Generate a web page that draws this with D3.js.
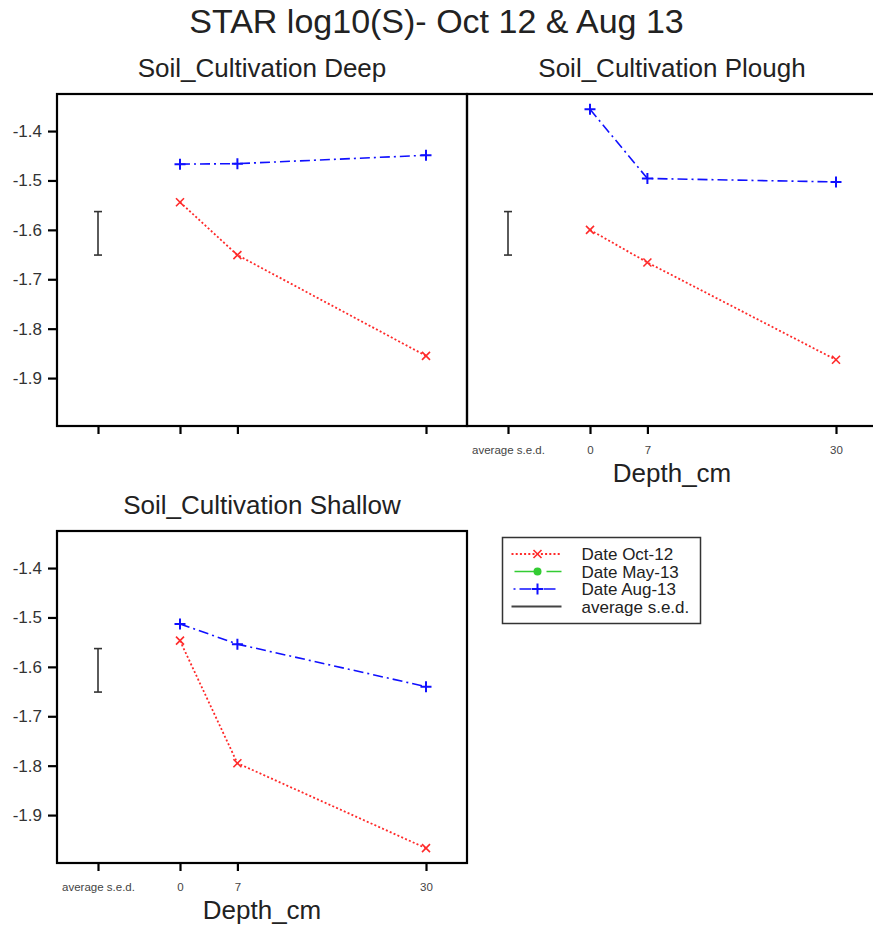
<!DOCTYPE html>
<html>
<head>
<meta charset="utf-8">
<script src="https://cdn.jsdelivr.net/npm/d3@7"></script>
<style>
  body { margin: 0; background: #fff; }
  text { font-family: "Liberation Sans", Arial, sans-serif; }
</style>
</head>
<body>
<div id="chart"></div>
<script>
const width = 873;
const height = 926;

// values
const depths = [0, 7, 30];
const panelNames = ["Deep", "Plough", "Shallow"];
const deepOct12 = [-1.544, -1.651, -1.855];
const deepAug13 = [-1.467, -1.466, -1.449];
const ploughOct12 = [-1.600, -1.666, -1.863];
const ploughAug13 = [-1.356, -1.496, -1.503];
const shallowOct12 = [-1.547, -1.795, -1.967];
const shallowAug13 = [-1.513, -1.554, -1.640];
const sedMid = -1.607;
const sedValue = 0.088;
const sedX = -10;

const yTicks = [-1.9, -1.8, -1.7, -1.6, -1.5, -1.4];
const xTickValues = [-10, 0, 7, 30];
const xTickLabels = ["average s.e.d.", "0", "7", "30"];
const legendLabels = ["Date Oct-12", "Date May-13", "Date Aug-13", "average s.e.d."];

const panelW = 410;
const panelH = 332;

const red = "#ff2a2a";
const blue = "#1010ff";
const green = "#33cc33";

const x = d3.scaleLinear().domain([-15, 35]).range([0, panelW]);
const y = d3.scaleLinear().domain([-1.997, -1.325]).range([panelH, 0]);

const svg = d3.select("#chart").append("svg")
  .attr("width", width)
  .attr("height", height);

svg.append("text")
  .attr("x", width / 2)
  .attr("y", 33)
  .attr("text-anchor", "middle")
  .attr("font-size", 34)
  .attr("fill", "#222")
  .text("STAR log10(S)- Oct 12 & Aug 13");

const line = d3.line()
  .x((d) => x(d[0]))
  .y((d) => y(d[1]));

// one panel: box, axes, sed bar and the two series
function drawPanel(opts) {
  const g = svg.append("g").attr("transform", `translate(${opts.left}, ${opts.top})`);

  g.append("text")
    .attr("x", panelW / 2)
    .attr("y", -17)
    .attr("text-anchor", "middle")
    .attr("font-size", 26)
    .attr("fill", "#222")
    .text("Soil_Cultivation " + opts.name);

  // y axis
  const yAxis = g.append("g")
    .call(d3.axisLeft(y).tickValues(opts.showY ? yTicks : []).tickSize(9).tickPadding(6)
      .tickFormat(d3.format(".1f")));
  yAxis.select(".domain").remove();
  yAxis.selectAll(".tick line").attr("stroke", "#000").attr("stroke-width", 2.2);
  yAxis.selectAll(".tick text")
    .attr("font-size", 17)
    .attr("font-family", "Liberation Sans, Arial, sans-serif")
    .attr("fill", "#333")
    .text((d) => d.toFixed(1));

  // x axis
  const xAxis = g.append("g")
    .attr("transform", `translate(0, ${panelH})`)
    .call(d3.axisBottom(x).tickValues(xTickValues).tickSize(8).tickPadding(12)
      .tickFormat((d, i) => opts.showXLabels ? xTickLabels[i] : ""));
  xAxis.select(".domain").remove();
  xAxis.selectAll(".tick line").attr("stroke", "#000").attr("stroke-width", 2.2);
  xAxis.selectAll(".tick text")
    .attr("font-size", 11.5)
    .attr("font-family", "Liberation Sans, Arial, sans-serif")
    .attr("fill", "#444");

  if (opts.showXLabels) {
    g.append("text")
      .attr("x", panelW / 2)
      .attr("y", panelH + 56)
      .attr("text-anchor", "middle")
      .attr("font-size", 26)
      .attr("fill", "#222")
      .text("Depth_cm");
  }

  // frame
  g.append("rect")
    .attr("width", panelW)
    .attr("height", panelH)
    .attr("fill", "none")
    .attr("stroke", "#000")
    .attr("stroke-width", 2.2);

  // average s.e.d. bar
  const sed = g.append("g").attr("stroke", "#333").attr("stroke-width", 1.6);
  const y0 = y(sedMid - sedValue / 2);
  const y1 = y(sedMid + sedValue / 2);
  sed.append("line").attr("x1", x(sedX)).attr("x2", x(sedX)).attr("y1", y0).attr("y2", y1);
  sed.append("line").attr("x1", x(sedX) - 4).attr("x2", x(sedX) + 4).attr("y1", y0).attr("y2", y0);
  sed.append("line").attr("x1", x(sedX) - 4).attr("x2", x(sedX) + 4).attr("y1", y1).attr("y2", y1);

  const oct = depths.map((d, i) => [d, opts.oct[i]]);
  const aug = depths.map((d, i) => [d, opts.aug[i]]);

  g.append("path")
    .attr("d", line(oct))
    .attr("fill", "none")
    .attr("stroke", red)
    .attr("stroke-width", 1.8)
    .attr("stroke-dasharray", "2,2.2");

  g.append("path")
    .attr("d", line(aug))
    .attr("fill", "none")
    .attr("stroke", blue)
    .attr("stroke-width", 1.6)
    .attr("stroke-dasharray", "10,4,2,4");

  g.selectAll(".cross")
    .data(oct)
    .join("path")
    .attr("class", "cross")
    .attr("d", (d) => {
      const cx = x(d[0]), cy = y(d[1]), s = 4;
      return `M${cx - s},${cy - s}L${cx + s},${cy + s}M${cx - s},${cy + s}L${cx + s},${cy - s}`;
    })
    .attr("stroke", red)
    .attr("stroke-width", 1.6);

  g.selectAll(".plus")
    .data(aug)
    .join("path")
    .attr("class", "plus")
    .attr("d", (d) => {
      const cx = x(d[0]), cy = y(d[1]), s = 5.5;
      return `M${cx - s},${cy}L${cx + s},${cy}M${cx},${cy - s}L${cx},${cy + s}`;
    })
    .attr("stroke", blue)
    .attr("stroke-width", 2);
}

drawPanel({ name: panelNames[0], left: 57, top: 94, oct: deepOct12, aug: deepAug13, showY: true, showXLabels: false });
drawPanel({ name: panelNames[1], left: 467, top: 94, oct: ploughOct12, aug: ploughAug13, showY: false, showXLabels: true });
drawPanel({ name: panelNames[2], left: 57, top: 531, oct: shallowOct12, aug: shallowAug13, showY: true, showXLabels: true });

// legend
const legend = svg.append("g").attr("transform", "translate(502.5, 537.5)");
legend.append("rect")
  .attr("width", 198)
  .attr("height", 86)
  .attr("fill", "#fff")
  .attr("stroke", "#333")
  .attr("stroke-width", 1.5);

const rowY = [16.5, 34, 51.5, 69];
const lx0 = 9, lx1 = 59, lmid = 35;

legendLabels.forEach((label, i) => {
  legend.append("text")
    .attr("x", 79)
    .attr("y", rowY[i])
    .attr("dy", "0.36em")
    .attr("font-size", 17)
    .attr("fill", "#222")
    .text(label);
});

legend.append("line").attr("x1", lx0).attr("x2", lx1).attr("y1", rowY[0]).attr("y2", rowY[0])
  .attr("stroke", red).attr("stroke-width", 1.8).attr("stroke-dasharray", "2,2.2");
legend.append("path")
  .attr("d", `M${lmid - 4},${rowY[0] - 4}L${lmid + 4},${rowY[0] + 4}M${lmid - 4},${rowY[0] + 4}L${lmid + 4},${rowY[0] - 4}`)
  .attr("stroke", red).attr("stroke-width", 1.6);

legend.append("line").attr("x1", lx0 + 3).attr("x2", lx1).attr("y1", rowY[1]).attr("y2", rowY[1])
  .attr("stroke", green).attr("stroke-width", 1.6).attr("stroke-dasharray", "24,8");
legend.append("circle").attr("cx", lmid).attr("cy", rowY[1]).attr("r", 4).attr("fill", green);

legend.append("line").attr("x1", lx0 + 2).attr("x2", lx1).attr("y1", rowY[2]).attr("y2", rowY[2])
  .attr("stroke", blue).attr("stroke-width", 1.6).attr("stroke-dasharray", "2,4,12,6");
legend.append("path")
  .attr("d", `M${lmid - 5.5},${rowY[2]}L${lmid + 5.5},${rowY[2]}M${lmid},${rowY[2] - 5.5}L${lmid},${rowY[2] + 5.5}`)
  .attr("stroke", blue).attr("stroke-width", 2);

legend.append("line").attr("x1", lx0).attr("x2", lx1).attr("y1", rowY[3]).attr("y2", rowY[3])
  .attr("stroke", "#444").attr("stroke-width", 2);
</script>
</body>
</html>
